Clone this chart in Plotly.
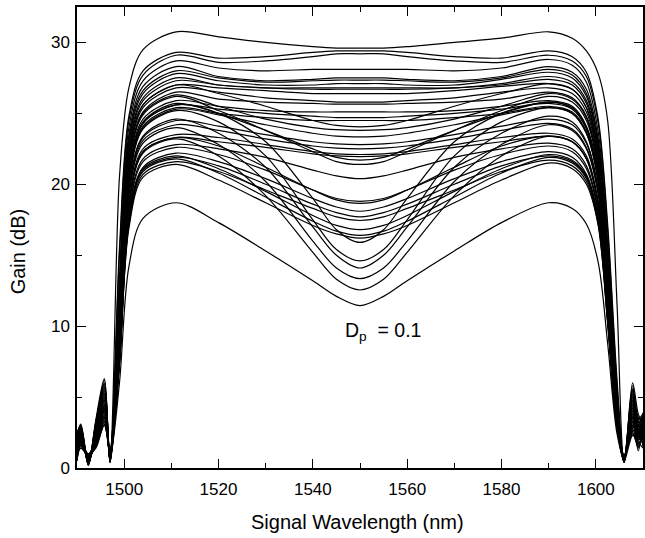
import plotly.graph_objects as go

# Wavelength grid (nm) shared by all gain curves
wavelength = [1490, 1490.8, 1492.4, 1494, 1495.8, 1497, 1499, 1501, 1504,
              1511, 1520, 1530, 1540, 1545, 1550, 1555, 1560, 1570, 1580, 1590,
              1595, 1598, 1600.5, 1602.5, 1604.5, 1606, 1607.8, 1609, 1610]

# Gain curves (dB), top to bottom
c01 = [1.5, 2.6, 0.3, 2.4, 4.8, 0.8, 20.5, 26.8, 29.5, 30.75, 30.4, 30.0, 29.7, 29.6, 29.6, 29.6, 29.7, 30.0, 30.3, 30.75, 30.3, 29.4, 27.8, 24.5, 11.5, 0.5, 4.5, 2.5, 3.0]
c02 = [0.8, 2.0, 0.6, 1.8, 3.6, 0.9, 15.5, 24.8, 28.0, 29.3, 28.9, 29.0, 29.3, 29.4, 29.4, 29.4, 29.3, 29.0, 28.9, 29.4, 29.0, 27.9, 24.6, 17.2, 6.2, 0.6, 3.2, 1.8, 2.2]
c03 = [2.2, 2.9, 0.2, 2.9, 5.6, 0.4, 15.0, 24.5, 27.7, 29.1, 28.6, 28.7, 29.0, 29.2, 29.2, 29.2, 29.0, 28.7, 28.6, 29.1, 28.7, 27.6, 24.3, 16.8, 5.8, 0.4, 5.8, 3.5, 3.8]
c04 = [1.0, 1.6, 0.8, 1.5, 3.0, 1.2, 13.5, 24.0, 27.3, 28.7, 28.2, 28.0, 28.1, 28.1, 28.1, 28.1, 28.1, 28.0, 28.2, 28.8, 28.4, 27.2, 23.7, 16.0, 5.4, 0.7, 2.6, 2.8, 1.5]
c05 = [0.5, 2.3, 0.4, 2.2, 4.2, 0.7, 12.8, 23.5, 26.9, 28.3, 27.6, 27.3, 27.4, 27.5, 27.5, 27.5, 27.4, 27.3, 27.6, 28.3, 27.9, 26.7, 23.2, 15.4, 5.0, 0.6, 4.0, 1.5, 2.8]
c06 = [1.8, 2.7, 0.5, 3.1, 6.2, 0.5, 12.2, 23.2, 26.6, 28.0, 27.5, 27.2, 27.3, 27.35, 27.35, 27.35, 27.3, 27.2, 27.5, 28.1, 27.7, 26.4, 22.9, 15.0, 4.8, 0.5, 5.2, 2.2, 3.3]
c07 = [1.2, 1.9, 1.0, 2.0, 3.9, 1.4, 11.8, 22.9, 26.4, 27.8, 27.3, 27.0, 27.0, 27.1, 27.1, 27.1, 27.0, 27.0, 27.4, 27.9, 27.5, 26.2, 22.7, 14.8, 4.7, 0.8, 3.0, 2.6, 1.9]
c08 = [2.0, 2.4, 0.4, 2.6, 5.0, 0.6, 11.4, 22.6, 26.1, 27.5, 27.0, 26.8, 26.8, 26.8, 26.8, 26.8, 26.8, 26.8, 27.1, 27.6, 27.2, 25.9, 22.4, 14.5, 4.5, 0.7, 4.6, 3.1, 2.4]
c09 = [0.7, 1.4, 0.9, 1.7, 3.3, 1.0, 11.0, 22.3, 25.9, 27.3, 27.0, 26.8, 26.7, 26.7, 26.7, 26.7, 26.7, 26.8, 27.0, 27.4, 27.0, 25.7, 22.2, 14.3, 4.4, 0.4, 3.6, 1.2, 3.5]
c10 = [1.6, 3.0, 0.3, 2.8, 5.3, 0.5, 10.6, 22.0, 25.6, 27.0, 26.8, 26.6, 26.4, 26.4, 26.4, 26.4, 26.4, 26.6, 26.9, 27.1, 26.7, 25.4, 21.9, 14.0, 4.3, 0.9, 2.8, 3.4, 1.7]
c11 = [0.9, 2.1, 0.7, 2.1, 4.0, 0.8, 10.3, 21.7, 25.4, 26.8, 26.5, 26.1, 25.9, 25.8, 25.8, 25.8, 25.9, 26.1, 26.5, 26.8, 26.4, 25.1, 21.6, 13.7, 4.2, 0.6, 5.0, 2.0, 2.9]
c12 = [1.3, 2.5, 0.5, 2.5, 4.6, 1.1, 10.0, 21.4, 25.1, 26.5, 26.0, 25.8, 25.7, 25.65, 25.65, 25.65, 25.7, 25.8, 26.0, 26.5, 26.1, 24.8, 21.3, 13.5, 4.1, 0.5, 4.2, 2.7, 3.1]
c13 = [2.4, 2.8, 0.2, 3.3, 5.9, 0.4, 9.6, 20.8, 24.6, 25.9, 25.5, 25.2, 25.1, 25.1, 25.1, 25.1, 25.1, 25.2, 25.5, 25.9, 25.5, 24.1, 20.7, 13.0, 3.9, 0.7, 3.4, 2.3, 2.0]
c14 = [0.6, 1.7, 0.8, 1.6, 3.4, 1.3, 9.4, 20.5, 24.3, 25.6, 25.3, 25.0, 24.8, 24.7, 24.7, 24.7, 24.8, 25.0, 25.3, 25.7, 25.3, 23.9, 20.5, 12.8, 3.8, 0.6, 5.5, 3.2, 3.6]
c15 = [1.9, 2.2, 0.6, 2.3, 4.4, 0.9, 9.2, 20.3, 24.1, 25.4, 25.0, 24.7, 24.5, 24.5, 24.5, 24.5, 24.5, 24.7, 25.0, 25.5, 25.1, 23.7, 20.3, 12.6, 3.7, 0.8, 2.4, 1.6, 2.6]
c16 = [1.1, 2.7, 0.4, 2.7, 5.1, 0.6, 10.6, 22.0, 25.6, 27.0, 26.4, 25.5, 24.5, 24.15, 24.05, 24.15, 24.5, 25.5, 26.4, 27.1, 26.7, 25.4, 21.9, 14.0, 4.3, 0.5, 4.8, 2.9, 3.2]
c17 = [0.9, 1.8, 0.9, 1.9, 3.7, 1.2, 10.0, 21.3, 25.0, 26.3, 25.5, 24.6, 24.0, 23.85, 23.8, 23.85, 24.0, 24.6, 25.5, 26.4, 26.0, 24.7, 21.2, 13.4, 4.1, 0.7, 3.3, 2.1, 2.5]
c18 = [2.1, 2.6, 0.3, 3.0, 5.7, 0.5, 9.2, 20.2, 24.0, 25.3, 24.9, 24.2, 23.6, 23.4, 23.35, 23.4, 23.6, 24.2, 24.9, 25.4, 25.0, 23.6, 20.2, 12.5, 3.7, 0.4, 5.1, 3.0, 3.9]
c19 = [1.4, 2.0, 0.7, 2.0, 4.1, 1.0, 8.8, 19.6, 23.3, 24.5, 24.1, 23.5, 23.0, 22.85, 22.8, 22.85, 23.0, 23.5, 24.1, 24.6, 24.2, 22.9, 19.6, 12.1, 3.5, 0.8, 2.9, 2.4, 1.8]
c20 = [0.7, 2.4, 0.5, 2.4, 4.5, 0.7, 8.6, 19.4, 23.1, 24.2, 23.8, 23.2, 22.7, 22.55, 22.5, 22.55, 22.7, 23.2, 23.8, 24.3, 23.9, 22.6, 19.4, 11.9, 3.4, 0.6, 4.3, 1.9, 3.0]
c21 = [1.7, 2.8, 0.3, 2.6, 5.2, 0.6, 8.2, 18.8, 22.5, 23.5, 23.3, 22.8, 22.3, 22.15, 22.1, 22.15, 22.3, 22.8, 23.3, 23.6, 23.2, 22.0, 18.8, 11.4, 3.2, 0.5, 3.8, 2.8, 2.2]
c22 = [1.0, 1.5, 1.0, 1.4, 3.1, 1.3, 8.1, 18.6, 22.3, 23.3, 23.0, 22.6, 22.15, 22.0, 21.95, 22.0, 22.15, 22.6, 23.0, 23.4, 23.0, 21.8, 18.6, 11.3, 3.1, 0.9, 2.5, 1.4, 2.7]
c23 = [2.3, 3.1, 0.4, 3.2, 6.0, 0.5, 9.4, 20.6, 24.4, 25.7, 25.0, 23.8, 22.5, 21.9, 21.7, 21.9, 22.5, 23.8, 25.0, 25.8, 25.4, 24.0, 20.6, 12.9, 3.8, 0.6, 5.6, 3.6, 3.4]
c24 = [0.8, 2.2, 0.6, 2.1, 4.3, 0.8, 9.8, 21.2, 24.9, 26.2, 25.2, 23.8, 22.3, 21.6, 21.4, 21.6, 22.3, 23.8, 25.2, 26.2, 25.8, 24.5, 21.0, 13.3, 4.0, 0.5, 4.1, 2.2, 2.3]
c25 = [1.5, 2.1, 0.8, 1.8, 3.8, 1.1, 7.9, 18.1, 21.8, 22.8, 22.5, 21.9, 21.0, 20.6, 20.4, 20.6, 21.0, 21.9, 22.5, 22.9, 22.5, 21.3, 18.2, 11.0, 3.0, 0.7, 3.1, 2.6, 1.6]
c26 = [0.6, 2.5, 0.4, 2.5, 4.7, 0.6, 7.8, 17.9, 21.6, 22.6, 22.1, 21.0, 19.6, 19.0, 18.8, 19.0, 19.6, 21.0, 22.1, 22.7, 22.3, 21.1, 18.0, 10.9, 3.0, 0.6, 4.7, 2.0, 3.3]
c27 = [1.8, 2.9, 0.3, 2.8, 5.4, 0.4, 8.1, 18.6, 22.3, 23.3, 22.7, 21.2, 19.6, 18.9, 18.65, 18.9, 19.6, 21.2, 22.7, 23.4, 23.0, 21.8, 18.6, 11.3, 3.1, 0.5, 3.5, 3.3, 2.6]
c28 = [1.2, 1.7, 0.9, 1.7, 3.5, 1.2, 7.6, 17.6, 21.2, 22.2, 21.6, 20.4, 19.0, 18.4, 18.1, 18.4, 19.0, 20.4, 21.6, 22.3, 21.9, 20.7, 17.7, 10.7, 3.0, 0.8, 2.7, 1.7, 2.1]
c29 = [2.0, 2.3, 0.5, 2.9, 5.5, 0.7, 7.5, 17.4, 21.0, 21.9, 21.3, 20.0, 18.6, 18.0, 17.7, 18.0, 18.6, 20.0, 21.3, 22.0, 21.6, 20.5, 17.5, 10.5, 2.9, 0.4, 5.3, 2.9, 3.7]
c30 = [0.9, 1.9, 0.7, 2.2, 4.0, 0.9, 7.3, 17.1, 20.7, 21.6, 20.9, 19.6, 18.3, 17.7, 17.45, 17.7, 18.3, 19.6, 20.9, 21.7, 21.3, 20.2, 17.2, 10.3, 2.8, 0.6, 3.9, 2.5, 2.4]
c31 = [1.4, 2.6, 0.4, 2.4, 4.9, 0.5, 7.5, 17.5, 21.1, 22.0, 21.1, 19.5, 17.8, 17.1, 16.8, 17.1, 17.8, 19.5, 21.1, 22.1, 21.7, 20.6, 17.6, 10.6, 2.9, 0.7, 4.4, 3.0, 2.9]
c32 = [0.5, 1.6, 0.8, 1.6, 3.2, 1.0, 7.4, 17.3, 20.9, 21.8, 20.8, 19.1, 17.4, 16.7, 16.4, 16.7, 17.4, 19.1, 20.8, 21.9, 21.5, 20.4, 17.4, 10.4, 2.8, 0.5, 2.3, 1.8, 1.4]
c33 = [2.5, 3.0, 0.2, 3.4, 6.3, 0.4, 7.2, 16.9, 20.5, 21.4, 20.3, 18.7, 17.1, 16.5, 16.2, 16.5, 17.1, 18.7, 20.3, 21.5, 21.1, 20.0, 17.1, 10.2, 2.8, 0.8, 6.0, 3.8, 3.1]
c34 = [1.1, 2.4, 0.6, 2.3, 4.4, 0.8, 9.4, 20.5, 24.3, 25.6, 25.0, 23.0, 19.0, 16.8, 15.9, 16.8, 19.0, 23.0, 25.0, 25.8, 25.4, 24.0, 20.6, 12.9, 3.8, 0.6, 3.7, 2.4, 2.8]
c35 = [1.6, 2.2, 0.5, 2.6, 4.8, 0.6, 9.2, 20.1, 23.9, 25.2, 24.4, 22.0, 17.5, 15.4, 14.6, 15.4, 17.5, 22.0, 24.4, 25.4, 25.0, 23.6, 20.2, 12.6, 3.7, 0.5, 4.9, 2.7, 3.4]
c36 = [0.8, 1.8, 0.8, 1.9, 3.6, 1.1, 8.9, 19.7, 23.4, 24.6, 23.6, 21.2, 17.0, 15.0, 14.1, 15.0, 17.0, 21.2, 23.6, 24.8, 24.4, 23.0, 19.7, 12.2, 3.5, 0.7, 3.0, 2.0, 2.2]
c37 = [2.2, 2.7, 0.3, 3.0, 5.8, 0.5, 8.6, 19.2, 22.9, 24.0, 22.8, 20.2, 16.0, 14.1, 13.35, 14.1, 16.0, 20.2, 22.8, 24.2, 23.8, 22.5, 19.3, 11.9, 3.4, 0.4, 5.4, 3.4, 3.6]
c38 = [1.0, 2.0, 0.6, 2.0, 4.2, 0.9, 8.2, 18.5, 22.2, 23.2, 22.0, 19.2, 15.2, 13.3, 12.55, 13.3, 15.2, 19.2, 22.0, 23.4, 23.0, 21.8, 18.6, 11.3, 3.1, 0.6, 3.6, 2.2, 2.5]
c39 = [1.3, 2.3, 0.5, 2.2, 4.1, 0.7, 6.0, 14.2, 17.6, 18.7, 17.3, 15.3, 13.2, 12.1, 11.45, 12.1, 13.2, 15.3, 17.3, 18.7, 18.3, 17.2, 14.5, 8.8, 2.4, 0.6, 3.3, 2.6, 2.0]

curves = [c01, c02, c03, c04, c05, c06, c07, c08, c09, c10, c11, c12, c13,
          c14, c15, c16, c17, c18, c19, c20, c21, c22, c23, c24, c25, c26,
          c27, c28, c29, c30, c31, c32, c33, c34, c35, c36, c37, c38, c39]

x_ticks = [1500, 1520, 1540, 1560, 1580, 1600]
y_ticks = [0, 10, 20, 30]

FONT = "Liberation Sans, Arial, Helvetica, sans-serif"

fig = go.Figure()
for y in curves:
    fig.add_trace(go.Scatter(
        x=wavelength, y=y, mode="lines",
        line=dict(color="black", width=1.2, shape="spline", smoothing=0.9),
        showlegend=False, hoverinfo="skip"))

axis_common = dict(
    showgrid=False, zeroline=False, showline=True, linecolor="black",
    linewidth=1.5, mirror="ticks", ticks="inside", ticklen=9, tickwidth=1.3,
    tickcolor="black", tickfont=dict(family=FONT, size=17, color="black"),
)

fig.update_xaxes(range=[1490, 1610], tickvals=x_ticks, ticklabelstandoff=5,
                 minor=dict(ticks="inside", ticklen=5, tickwidth=1.3,
                            tickcolor="black", dtick=10, tick0=1490),
                 **axis_common)
fig.update_yaxes(range=[0, 32.5], tickvals=y_ticks, ticklabelstandoff=2,
                 minor=dict(ticks="inside", ticklen=5, tickwidth=1.3,
                            tickcolor="black", dtick=5, tick0=0),
                 **axis_common)

fig.add_annotation(text="Signal Wavelength (nm)", xref="paper", yref="paper",
                   x=0.4956, y=-0.1164, xanchor="center", yanchor="middle",
                   showarrow=False, font=dict(family=FONT, size=20, color="black"))
fig.add_annotation(text="Gain (dB)", xref="paper", yref="paper",
                   x=-0.105, y=0.469, xanchor="center", yanchor="middle",
                   textangle=-90, showarrow=False,
                   font=dict(family=FONT, size=20, color="black"))
fig.add_annotation(text="D<sub>p</sub>  = 0.1", xref="x", yref="y",
                   x=1546.3, y=9.6, xanchor="left", yanchor="middle",
                   showarrow=False, font=dict(family=FONT, size=19.5, color="black"))

fig.update_layout(
    width=645, height=538,
    margin=dict(l=77, r=0, t=7, b=70),
    paper_bgcolor="white", plot_bgcolor="white",
)

fig.write_html("out.html", config={"displayModeBar": False},
               post_script="document.body.style.margin='0';document.body.style.overflow='hidden';")
